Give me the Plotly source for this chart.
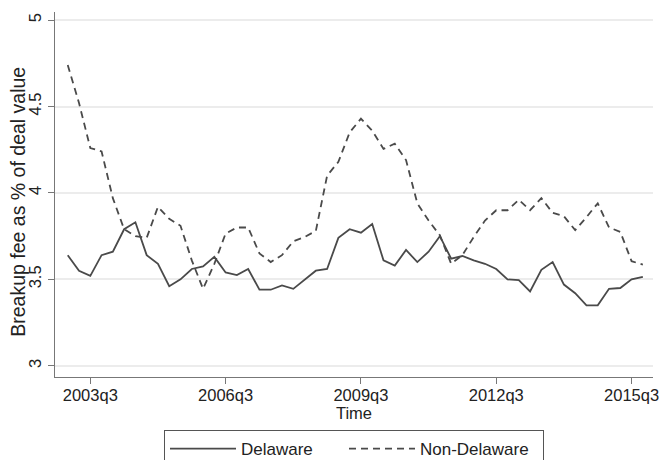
import plotly.graph_objects as go

# Quarterly periods, 2003q1 through 2015q4
years = list(range(2003, 2016))
quarters = [f"{y}q{q}" for y in years for q in range(1, 5)]

# Average breakup fee (% of deal value), by state of incorporation
delaware = [
    3.64, 3.55, 3.52, 3.64, 3.66, 3.79, 3.83, 3.64, 3.59, 3.46,
    3.50, 3.56, 3.575, 3.63, 3.54, 3.525, 3.56, 3.44, 3.44, 3.465,
    3.445, 3.495, 3.55, 3.56, 3.74, 3.79, 3.77, 3.82, 3.61, 3.58,
    3.67, 3.60, 3.66, 3.75, 3.62, 3.635, 3.61, 3.59, 3.56, 3.50,
    3.495, 3.43, 3.555, 3.60, 3.47, 3.42, 3.35, 3.35, 3.445, 3.45,
    3.50, 3.515,
]
non_delaware = [
    4.74, 4.52, 4.26, 4.24, 3.97, 3.79, 3.75, 3.74, 3.92, 3.85,
    3.81, 3.61, 3.445, 3.59, 3.765, 3.80, 3.80, 3.65, 3.60, 3.64,
    3.72, 3.745, 3.78, 4.10, 4.18, 4.35, 4.43, 4.36, 4.255, 4.285,
    4.19, 3.94, 3.84, 3.755, 3.59, 3.64, 3.745, 3.84, 3.90, 3.90,
    3.96, 3.90, 3.97, 3.885, 3.865, 3.785, 3.86, 3.94, 3.80, 3.775,
    3.605, 3.585,
]

x_ticks = ["2003q3", "2006q3", "2009q3", "2012q3", "2015q3"]
y_ticks = [3, 3.5, 4, 4.5, 5]
y_tick_text = ["3", "3.5", "4", "4.5", "5"]
y_title = "Breakup fee as % of deal value"

line_color = "#4a4a4a"
font_family = "Liberation Sans, Arial, sans-serif"

fig = go.Figure()
fig.add_trace(go.Scatter(
    x=quarters, y=delaware, mode="lines", name="Delaware",
    line=dict(color=line_color, width=1.8), legendwidth=98,
))
fig.add_trace(go.Scatter(
    x=quarters, y=non_delaware, mode="lines", name="Non-Delaware",
    line=dict(color=line_color, width=1.8, dash="7px,5px"), legendwidth=118,
))

# Rotated y-axis title, placed to the left of the tick labels
fig.add_annotation(
    text=y_title, textangle=-90, showarrow=False,
    xref="paper", yref="paper", x=-0.062, y=0.48,
    xanchor="center", yanchor="middle",
    font=dict(size=19.5, family=font_family, color="#222222"),
)

fig.update_layout(
    width=661, height=460,
    margin=dict(l=55, r=8, t=12, b=83, autoexpand=False),
    paper_bgcolor="white", plot_bgcolor="white",
    font=dict(family=font_family, size=16, color="#222222"),
    showlegend=True,
    legend=dict(
        orientation="h", x=0.5, xanchor="center",
        yref="container", y=0.065, yanchor="top",
        bordercolor="#555555", borderwidth=1, bgcolor="white",
        font=dict(size=17), itemwidth=66,
    ),
    xaxis=dict(
        type="category", categoryorder="array", categoryarray=quarters,
        range=[-1.13, 51.9],
        tickmode="array", tickvals=x_ticks, ticktext=x_ticks,
        ticks="outside", ticklen=6, tickcolor="#777777",
        ticklabelstandoff=-3,
        showline=True, linecolor="#777777", linewidth=1.2,
        showgrid=False, zeroline=False, automargin=False,
        tickfont=dict(size=16.5),
        title=dict(text="Time", font=dict(size=16.5), standoff=0),
    ),
    yaxis=dict(
        range=[2.935, 5.047],
        tickmode="array", tickvals=y_ticks, ticktext=y_tick_text,
        tickangle=-90,
        ticks="outside", ticklen=6, tickcolor="#777777",
        showline=True, linecolor="#777777", linewidth=1.2,
        showgrid=True, gridcolor="#ececec", gridwidth=1.5,
        zeroline=False, automargin=False,
        tickfont=dict(size=16.5),
    ),
)

fig.write_html("out.html")
